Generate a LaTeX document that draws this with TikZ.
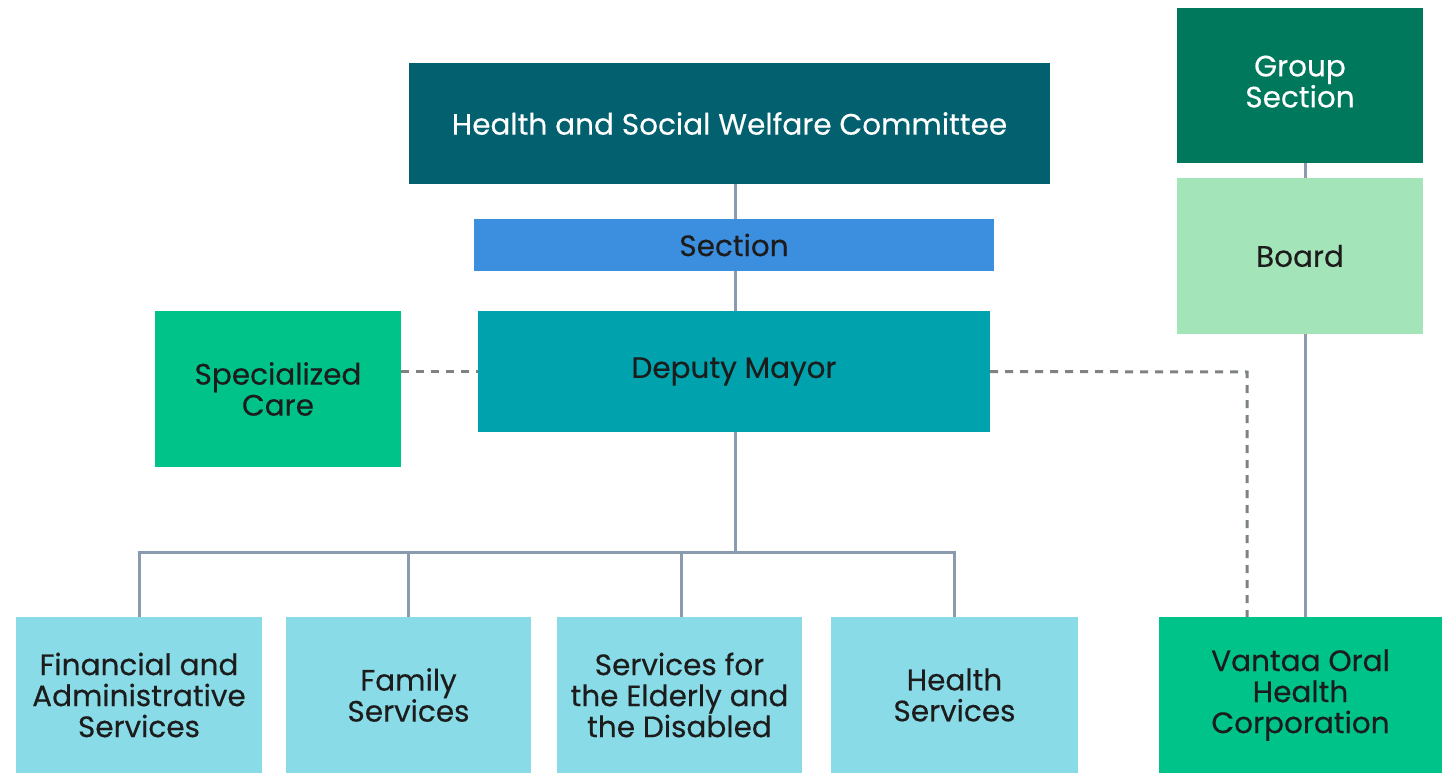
\documentclass[tikz,border=0pt]{standalone}
\usepackage{fontspec}
\setmainfont{Poppins}[FakeBold=0.35]
\usetikzlibrary{calc,backgrounds}
\definecolor{cCommittee}{HTML}{02606F}
\definecolor{cSection}{HTML}{3C8EDE}
\definecolor{cDeputy}{HTML}{00A3AD}
\definecolor{cGreen}{HTML}{00C389}
\definecolor{cGroup}{HTML}{00785C}
\definecolor{cBoard}{HTML}{A4E4B9}
\definecolor{cUnit}{HTML}{89DBE7}
\definecolor{cLine}{HTML}{8A9BB0}
\definecolor{cDash}{HTML}{7F8283}
\definecolor{cText}{HTML}{1C1C1C}
\tikzset{
  box/.style={rectangle, inner sep=0pt, align=center, text=cText,
    font=\fontsize{29.5}{31}\selectfont},
  link/.style={draw=cLine, line width=3pt},
  dlink/.style={draw=cDash, line width=3pt, dash pattern=on 8pt off 7pt},
}
\begin{document}
\begin{tikzpicture}[x=1pt,y=-1pt]
\useasboundingbox (0,0) rectangle (1455,775);
\node[box, fill=cCommittee, text=white, minimum width=641pt, minimum height=121pt] (committee) at (729.5,123.5) {Health and Social Welfare Committee};
\node[box, fill=cSection, minimum width=520pt, minimum height=52pt] (section) at (734,245) {Section};
\node[box, fill=cDeputy, minimum width=512pt, minimum height=121pt] (deputy) at (734,371.5) {Deputy Mayor};
\node[box, fill=cGreen, minimum width=246pt, minimum height=156pt] (spec) at (278,389) {Specialized\\Care};
\node[box, fill=cGroup, text=white, minimum width=246pt, minimum height=155pt] (group) at (1300,85.5) {Group\\Section\rule[-8pt]{0pt}{0pt}};
\node[box, fill=cBoard, minimum width=246pt, minimum height=156pt] (board) at (1300,256) {Board};
\node[box, fill=cUnit, minimum width=246pt, minimum height=156pt] (fin) at (139,695) {Financial and\\Administrative\\Services};
\node[box, fill=cUnit, minimum width=245pt, minimum height=156pt] (fam) at (408.5,695) {Family\\Services};
\node[box, fill=cUnit, minimum width=245pt, minimum height=156pt] (eld) at (679.5,695) {Services for\\the Elderly and\\the Disabled};
\node[box, fill=cUnit, minimum width=247pt, minimum height=156pt] (hs) at (954.5,695) {Health\\Services};
\node[box, fill=cGreen, minimum width=283pt, minimum height=156pt] (van) at (1300.5,695) {Vantaa Oral\\Health\\Corporation};
\coordinate (bus) at (735,552);
\coordinate (vline) at (1305,0);
\coordinate (dcorner) at (1247,372);
\begin{scope}[on background layer]
\draw[link] (committee.south -| bus) -- (deputy.north -| bus);
\draw[link] (deputy.south -| bus) -- (bus);
\draw[link] (fin.north) -- (fin.north |- bus) -- (hs.north |- bus) -- (hs.north);
\draw[link] (fam.north |- bus) -- (fam.north);
\draw[link] ($(eld.north |- bus)+(1.5,0)$) -- ($(eld.north)+(1.5,0)$);
\draw[link] (group.south -| vline) -- (board.north -| vline);
\draw[link] (board.south -| vline) -- (van.north -| vline);
\draw[dlink] (spec.east |- deputy.west) -- (deputy.west);
\draw[dlink] (deputy.east) -- (dcorner) -- (van.north -| dcorner);
\end{scope}
\end{tikzpicture}
\end{document}
